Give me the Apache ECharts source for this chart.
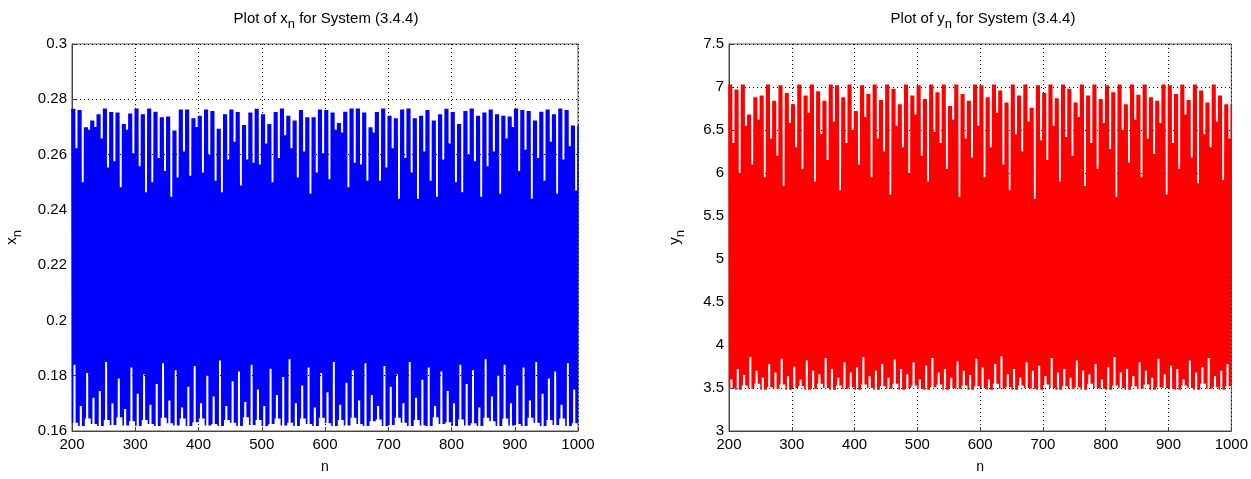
<!DOCTYPE html>
<html>
<head>
<meta charset="utf-8">
<title>System (3.4.4)</title>
<script src="https://cdn.jsdelivr.net/npm/echarts@6/dist/echarts.min.js"></script>
<style>
  html, body { margin: 0; padding: 0; background: #fff; }
  #chart { width: 1251px; height: 479px; }
</style>
</head>
<body>
<div id="chart"></div>
<script>
// n runs 200..1000; the sequence swings high/low on every step.
// Each entry below is one visible "bar" of the plot (10 steps of n):
// level of its highs (or lows) and the depth of the dip (or spike) after it.
const nStart = 200
const nEnd = 1000

const xTopLevels = [
  0.2766, 0.2761, 0.2699, 0.2723, 0.2746, 0.2767, 0.2754, 0.2752, 0.2711, 0.2749,
  0.2767, 0.2746, 0.2767, 0.2755, 0.2735, 0.2738, 0.2687, 0.2763, 0.2763, 0.2731,
  0.2740, 0.2763, 0.2758, 0.2693, 0.2746, 0.2763, 0.2754, 0.2707, 0.2752, 0.2766,
  0.2746, 0.2711, 0.2754, 0.2767, 0.2740, 0.2723, 0.2761, 0.2735, 0.2735, 0.2763,
  0.2761, 0.2752, 0.2714, 0.2755, 0.2767, 0.2767, 0.2752, 0.2699, 0.2754, 0.2767,
  0.2740, 0.2731, 0.2763, 0.2767, 0.2731, 0.2740, 0.2761, 0.2723, 0.2746, 0.2766,
  0.2754, 0.2711, 0.2758, 0.2767, 0.2740, 0.2752, 0.2763, 0.2746, 0.2740, 0.2738,
  0.2767, 0.2761, 0.2758, 0.2723, 0.2755, 0.2763, 0.2746, 0.2767, 0.2761, 0.2705
]
const xTopDips = [
  0.2623, 0.2500, 0.2690, 0.2700, 0.2658, 0.2553, 0.2576, 0.2482, 0.2690, 0.2605,
  0.2558, 0.2464, 0.2500, 0.2588, 0.2541, 0.2447, 0.2517, 0.2611, 0.2523, 0.2700,
  0.2535, 0.2599, 0.2505, 0.2464, 0.2582, 0.2646, 0.2488, 0.2582, 0.2570, 0.2564,
  0.2640, 0.2500, 0.2588, 0.2670, 0.2623, 0.2517, 0.2611, 0.2458, 0.2535, 0.2605,
  0.2511, 0.2690, 0.2680, 0.2482, 0.2570, 0.2564, 0.2505, 0.2680, 0.2505, 0.2553,
  0.2623, 0.2440, 0.2588, 0.2535, 0.2440, 0.2611, 0.2505, 0.2447, 0.2582, 0.2640,
  0.2500, 0.2464, 0.2599, 0.2576, 0.2447, 0.2558, 0.2611, 0.2458, 0.2658, 0.2700,
  0.2541, 0.2617, 0.2440, 0.2588, 0.2505, 0.2646, 0.2458, 0.2582, 0.2630, 0.2470
]
const xBottomLevels = [
  0.1630, 0.1618, 0.1645, 0.1625, 0.1618, 0.1640, 0.1622, 0.1650, 0.1620, 0.1635,
  0.1618, 0.1640, 0.1625, 0.1618, 0.1648, 0.1628, 0.1620, 0.1645, 0.1618, 0.1632,
  0.1645, 0.1620, 0.1625, 0.1618, 0.1640, 0.1630, 0.1618, 0.1650, 0.1622, 0.1640,
  0.1618, 0.1625, 0.1645, 0.1620, 0.1630, 0.1618, 0.1645, 0.1625, 0.1618, 0.1648,
  0.1628, 0.1618, 0.1640, 0.1620, 0.1648, 0.1625, 0.1618, 0.1635, 0.1642, 0.1618,
  0.1622, 0.1648, 0.1630, 0.1618, 0.1640, 0.1620, 0.1618, 0.1650, 0.1625, 0.1632,
  0.1618, 0.1642, 0.1620, 0.1628, 0.1618, 0.1648, 0.1635, 0.1618, 0.1645, 0.1620,
  0.1625, 0.1618, 0.1648, 0.1630, 0.1618, 0.1640, 0.1622, 0.1645, 0.1618, 0.1628
]
const xBottomSpikes = [
  0.1840, 0.1690, 0.1810, 0.1720, 0.1745, 0.1850, 0.1700, 0.1790, 0.1680, 0.1830,
  0.1735, 0.1805, 0.1695, 0.1770, 0.1845, 0.1710, 0.1820, 0.1685, 0.1760, 0.1835,
  0.1700, 0.1800, 0.1725, 0.1855, 0.1690, 0.1780, 0.1815, 0.1705, 0.1840, 0.1750,
  0.1690, 0.1825, 0.1730, 0.1795, 0.1860, 0.1700, 0.1765, 0.1830, 0.1685, 0.1810,
  0.1740, 0.1850, 0.1695, 0.1775, 0.1820, 0.1710, 0.1845, 0.1730, 0.1690, 0.1835,
  0.1760, 0.1805, 0.1700, 0.1850, 0.1720, 0.1785, 0.1830, 0.1690, 0.1815, 0.1745,
  0.1700, 0.1840, 0.1770, 0.1820, 0.1685, 0.1860, 0.1725, 0.1800, 0.1840, 0.1700,
  0.1765, 0.1830, 0.1710, 0.1850, 0.1735, 0.1790, 0.1815, 0.1695, 0.1845, 0.1750
]

const yTopLevels = [
  7.03, 6.97, 7.03, 6.68, 6.88, 6.90, 7.03, 6.84, 7.02, 6.93,
  6.80, 7.03, 6.90, 7.03, 6.95, 6.84, 7.03, 7.02, 6.88, 7.03,
  6.72, 7.02, 6.92, 7.03, 6.85, 7.03, 6.98, 6.80, 7.03, 6.90,
  7.02, 6.86, 7.03, 6.94, 7.03, 6.78, 7.03, 6.92, 6.84, 7.03,
  7.02, 6.88, 7.03, 6.96, 6.82, 7.03, 6.90, 7.03, 6.76, 7.02,
  6.93, 7.03, 6.87, 7.03, 6.98, 6.82, 7.03, 6.90, 7.03, 6.86,
  7.02, 6.94, 7.03, 6.80, 7.03, 6.91, 7.03, 6.88, 6.84, 7.03,
  7.02, 6.92, 7.03, 6.85, 7.03, 6.96, 6.82, 7.03, 6.90, 6.80
]
const yTopDips = [
  6.35, 6.00, 6.55, 6.10, 6.62, 5.95, 6.40, 6.20, 5.85, 6.58,
  6.30, 6.05, 6.70, 5.90, 6.45, 6.15, 6.60, 5.80, 6.35, 6.50,
  6.10, 6.65, 5.95, 6.40, 6.25, 5.75, 6.55, 6.30, 6.00, 6.68,
  6.20, 5.90, 6.48, 6.35, 6.05, 6.62, 5.72, 6.40, 6.18, 6.55,
  5.95, 6.30, 6.70, 6.10, 5.80, 6.45, 6.25, 6.60, 5.70, 6.38,
  6.15, 6.55, 5.90, 6.42, 6.20, 6.65, 5.85, 6.35, 6.05, 6.58,
  6.28, 5.72, 6.50, 6.12, 6.62, 5.95, 6.40, 6.22, 6.58, 5.75,
  6.35, 6.05, 6.68, 6.18, 5.88, 6.45, 6.30, 6.60, 5.92, 6.40
]
const yBottomLevels = [
  3.50, 3.48, 3.53, 3.49, 3.55, 3.48, 3.51, 3.49, 3.54, 3.48,
  3.50, 3.52, 3.48, 3.49, 3.55, 3.50, 3.48, 3.53, 3.49, 3.51,
  3.48, 3.54, 3.50, 3.48, 3.52, 3.49, 3.55, 3.48, 3.50, 3.53,
  3.49, 3.48, 3.51, 3.54, 3.48, 3.50, 3.49, 3.53, 3.48, 3.52,
  3.50, 3.48, 3.55, 3.49, 3.51, 3.48, 3.53, 3.50, 3.49, 3.48,
  3.54, 3.50, 3.48, 3.52, 3.49, 3.51, 3.48, 3.55, 3.50, 3.49,
  3.48, 3.53, 3.50, 3.48, 3.52, 3.49, 3.54, 3.48, 3.51, 3.50,
  3.49, 3.48, 3.53, 3.50, 3.48, 3.55, 3.49, 3.51, 3.48, 3.52
]
const yBottomSpikes = [
  3.60, 3.72, 3.65, 3.86, 3.70, 3.62, 3.78, 3.68, 3.84, 3.64,
  3.75, 3.60, 3.82, 3.70, 3.66, 3.85, 3.72, 3.62, 3.80, 3.68,
  3.74, 3.86, 3.64, 3.70, 3.78, 3.62, 3.83, 3.72, 3.66, 3.80,
  3.60, 3.76, 3.85, 3.68, 3.72, 3.62, 3.81, 3.70, 3.65, 3.84,
  3.74, 3.60, 3.78, 3.87, 3.66, 3.72, 3.62, 3.80, 3.70, 3.76,
  3.64, 3.85, 3.68, 3.72, 3.62, 3.82, 3.70, 3.66, 3.78, 3.60,
  3.74, 3.86, 3.68, 3.72, 3.64, 3.80, 3.70, 3.62, 3.84, 3.66,
  3.76, 3.72, 3.60, 3.82, 3.68, 3.74, 3.85, 3.64, 3.70, 3.78
]

// expand the bars into the n -> value sequence (high on even n, low on odd n)
// each bar: 3 highs at its level then 2 at the dip; lows with a 2-step spike
const buildSeries = (topLv, topDip, botLv, botSp) => {
  const pts = []
  const step = (nEnd - nStart) / topLv.length
  for (let i = 0; i < topLv.length; i++) {
    for (let j = 0; j < step / 2; j++) {
      const n = nStart + i * step + j * 2
      pts.push([n, j >= 3 ? topDip[i] : topLv[i]])
      pts.push([n + 1, j === 1 || j === 2 ? botSp[i] : botLv[i]])
    }
  }
  pts.push([nEnd, topLv[topLv.length - 1]])
  return pts
}

const xData = buildSeries(xTopLevels, xTopDips, xBottomLevels, xBottomSpikes)
const yData = buildSeries(yTopLevels, yTopDips, yBottomLevels, yBottomSpikes)

const FONT = '"Liberation Sans", Arial, sans-serif'
const rich = {
  a: { fontFamily: FONT, fontSize: 15, color: '#000', padding: [0, 0, 5, 0], verticalAlign: 'bottom' },
  s: { fontFamily: FONT, fontSize: 13, color: '#000', verticalAlign: 'bottom' }
}

const makeX = (gridIndex) => ({
  type: 'value',
  gridIndex,
  min: nStart,
  max: nEnd,
  interval: 100,
  name: 'n',
  nameLocation: 'middle',
  nameGap: 29,
  nameTextStyle: { fontFamily: FONT, fontSize: 14, color: '#000' },
  axisLine: { show: true, lineStyle: { color: '#444' } },
  axisTick: { show: true, inside: true, length: 4, lineStyle: { color: '#444' } },
  axisLabel: { fontFamily: FONT, fontSize: 15, color: '#000', margin: 6, formatter: (v) => String(v) },
  splitLine: { show: true, lineStyle: { color: '#000', type: [1, 3], width: 1 } }
})

const makeY = (gridIndex, min, max, interval, letter, gap) => ({
  type: 'value',
  gridIndex,
  min,
  max,
  interval,
  name: '{a|' + letter + '}{s|n}',
  nameLocation: 'middle',
  nameRotate: 90,
  nameGap: gap,
  nameTextStyle: { rich },
  axisLine: { show: true, lineStyle: { color: '#444' } },
  axisTick: { show: true, inside: true, length: 4, lineStyle: { color: '#444' } },
  axisLabel: { fontFamily: FONT, fontSize: 15, color: '#000', margin: 5 },
  splitLine: { show: true, lineStyle: { color: '#000', type: [1, 3], width: 1 } }
})

const chart = echarts.init(document.getElementById('chart'))
chart.setOption({
  animation: false,
  backgroundColor: '#fff',
  graphic: [
    {
      type: 'text', x: 326, y: 21,
      style: { text: '{a|Plot of x}{s|n}{a| for System (3.4.4)}', rich, align: 'center', verticalAlign: 'middle' }
    },
    {
      type: 'text', x: 983, y: 21,
      style: { text: '{a|Plot of y}{s|n}{a| for System (3.4.4)}', rich, align: 'center', verticalAlign: 'middle' }
    }
  ],
  grid: [
    { left: 72, right: 673, top: 44, bottom: 37, show: true, borderColor: '#555', borderWidth: 1 },
    { left: 729, right: 15, top: 44, bottom: 37, show: true, borderColor: '#555', borderWidth: 1 }
  ],
  xAxis: [makeX(0), makeX(1)],
  yAxis: [
    makeY(0, 0.16, 0.3, 0.02, 'x', 48),
    makeY(1, 3, 7.5, 0.5, 'y', 42)
  ],
  series: [
    {
      type: 'line', xAxisIndex: 0, yAxisIndex: 0, data: xData,
      showSymbol: false, symbol: 'none', lineStyle: { color: '#0000ff', width: 1.6 }
    },
    {
      type: 'line', xAxisIndex: 1, yAxisIndex: 1, data: yData,
      showSymbol: false, symbol: 'none', lineStyle: { color: '#ff0000', width: 1.6 }
    }
  ]
})
</script>
</body>
</html>
